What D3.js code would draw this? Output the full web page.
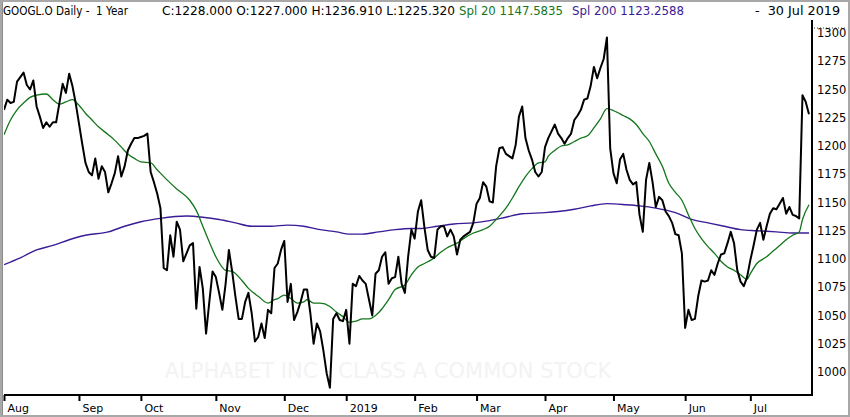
<!DOCTYPE html>
<html>
<head>
<meta charset="utf-8">
<script src="https://cdn.jsdelivr.net/npm/d3@7"></script>
<style>
  body{margin:0;background:#fff;}
  svg text{font-family:"DejaVu Sans",sans-serif;}
</style>
</head>
<body>
<div id="chart"></div>
<script>
// daily closes, one small array per month (trading days)
const closeAug = [1232,1241,1238,1239,1257,1261,1265,1254,1250,1258,1235,1226,1216,1221,1217,1221,1221,1238,1255,1247,1264,1253,1238];
const closeSep = [1220,1202,1185,1177,1174,1189,1171,1182,1177,1159,1167,1176,1191,1173,1182,1196,1202,1207,1207];
const closeOct = [1208,1209,1211,1177,1168,1158,1145,1092,1090,1121,1102,1133,1126,1098,1105,1112,1114,1056,1093,1074,1034,1062,1089];
const closeNov = [1084,1070,1055,1078,1108,1089,1067,1047,1047,1062,1070,1052,1027,1031,1043,1030,1055,1052,1092,1096,1108];
const closeDec = [1116,1062,1078,1046,1053,1062,1073,1073,1052,1025,1043,1036,1019,999,986,1047,1052,1046,1045];
const closeJan = [1055,1025,1078,1076,1085,1081,1078,1064,1050,1087,1090,1102,1106,1078,1083,1084,1102,1078,1070,1102,1126];
const closeFeb = [1118,1142,1152,1128,1108,1102,1101,1126,1129,1129,1120,1126,1120,1104,1117,1120,1122,1124,1132];
const closeMar = [1149,1154,1168,1164,1151,1150,1182,1198,1199,1193,1191,1189,1201,1226,1235,1207,1196,1188,1177,1173,1177];
const closeApr = [1199,1207,1213,1219,1211,1207,1202,1207,1211,1223,1227,1232,1241,1242,1253,1270,1260,1269,1277,1296,1198];
const closeMay = [1176,1167,1188,1193,1179,1170,1166,1168,1139,1124,1170,1185,1168,1146,1155,1152,1142,1138,1132,1122,1121,1105];
const closeJun = [1039,1055,1046,1047,1067,1081,1080,1081,1090,1086,1096,1104,1105,1114,1124,1114,1090,1080,1076,1084];
const closeJul = [1099,1112,1126,1132,1117,1129,1140,1145,1144,1149,1154,1140,1146,1139,1138,1136,1245,1239,1228];

const monthCloses = [closeAug,closeSep,closeOct,closeNov,closeDec,closeJan,closeFeb,closeMar,closeApr,closeMay,closeJun,closeJul];
const monthLabels = ["Aug","Sep","Oct","Nov","Dec","2019","Feb","Mar","Apr","May","Jun","Jul"];

// Spl 20 read at trading-day positions
const spl20Day = [0,2,4,6,8,10,13,15,17,19,21,23,25,27,29,32,34,36,38,40,42,45,47,50,53,57,59,61,63,65,68,70,73,75,78,81,83,84,86,88,90,92,93,95,97,100,102,104,106,108,110,112,114,116,118,120,123,125,127,129,132,134,136,139,141,144,147,149,151,154,156,158,160,162,164,166,167,169,171,173,175,177,179,181,183,185,188,190,192,194,196,198,200,202,204,206,208,210,212,214,216,218,220,222,224,226,228,229,231,234,236,238,240,242,244,245,247];
const spl20Val = [1210,1223,1232,1238,1243,1245,1246,1241,1237,1239,1241,1236,1229,1223,1217,1210,1205,1199,1193,1189,1186,1185,1179,1170,1162,1152,1143,1129,1115,1102,1090,1089,1081,1074,1067,1061,1064,1065,1068,1065,1061,1062,1064,1061,1061,1058,1053,1049,1044,1045,1047,1047,1050,1056,1064,1073,1077,1086,1093,1096,1101,1106,1110,1114,1118,1123,1126,1129,1135,1145,1154,1164,1173,1180,1185,1186,1191,1196,1200,1201,1204,1207,1209,1216,1224,1233,1230,1227,1224,1219,1211,1204,1193,1182,1167,1159,1152,1139,1127,1118,1111,1105,1098,1093,1090,1086,1082,1087,1096,1102,1107,1112,1117,1121,1124,1135,1148];

// Spl 200 read at trading-day positions
const spl200Day = [0,5,10,15,20,25,32,37,42,48,56,61,66,71,76,82,87,92,97,102,106,110,115,120,125,128,133,138,144,149,154,159,166,170,175,180,185,191,195,200,206,211,216,221,226,231,237,242,247];
const spl200Val = [1095,1101,1108,1112,1117,1121,1124,1129,1133,1136,1138,1137,1135,1132,1129,1129,1130,1129,1126,1124,1122,1122,1124,1126,1127,1127,1129,1131,1132,1134,1137,1140,1141,1142,1144,1147,1149,1148,1147,1145,1141,1135,1132,1129,1126,1125,1124,1123,1123];

const yTicks = [1000,1025,1050,1075,1100,1125,1150,1175,1200,1225,1250,1275,1300];

const W = 850, H = 417;
const plotLeft = 4, plotRight = 812, plotTop = 20, plotBottom = 395;

const closes = monthCloses.flat();
const monthStart = [];
monthCloses.reduce((acc, m) => { monthStart.push(acc); return acc + m.length; }, 0);

const x = d3.scaleLinear().domain([0, closes.length - 1]).range([4, 809]);
const y = d3.scaleLinear().domain([1000, 1300]).range([372, 33]);

const svg = d3.select('#chart').append('svg')
  .attr('width', W).attr('height', H);

svg.append('rect').attr('width', W).attr('height', H).attr('fill', '#fff');

svg.append('clipPath').attr('id', 'plot')
  .append('rect').attr('x', plotLeft).attr('y', plotTop)
  .attr('width', plotRight - plotLeft).attr('height', plotBottom - plotTop);

// watermark
svg.append('text')
  .attr('x', 388).attr('y', 378)
  .attr('text-anchor', 'middle')
  .style('font-size', '21px')
  .style('fill', '#f3f3f3')
  .text('ALPHABET INC - CLASS A COMMON STOCK');

const g = svg.append('g').attr('clip-path', 'url(#plot)');

const line200 = d3.line().x((d, i) => x(spl200Day[i])).y(d => y(d)).curve(d3.curveMonotoneX);
g.append('path').datum(spl200Val)
  .attr('d', line200).attr('fill', 'none')
  .attr('stroke', '#3b1c96').attr('stroke-width', 1.4);

const line20 = d3.line().x((d, i) => x(spl20Day[i])).y(d => y(d)).curve(d3.curveMonotoneX);
g.append('path').datum(spl20Val)
  .attr('d', line20).attr('fill', 'none')
  .attr('stroke', '#13761a').attr('stroke-width', 1.3);

const priceLine = d3.line().x((d, i) => x(i)).y(d => y(d));
g.append('path').datum(closes)
  .attr('d', priceLine).attr('fill', 'none')
  .attr('stroke', '#000').attr('stroke-width', 2)
  .attr('stroke-linejoin', 'round');

// x axis
const xAxis = d3.axisBottom(x)
  .tickValues(monthStart)
  .tickFormat((d, i) => monthLabels[i])
  .tickSize(6).tickSizeOuter(0);

const gx = svg.append('g').attr('transform', 'translate(0,' + plotBottom + ')').call(xAxis);
gx.select('.domain').remove();
gx.selectAll('.tick line').attr('stroke', '#000').attr('stroke-width', 2);
gx.selectAll('.tick text')
  .attr('text-anchor', 'start').attr('x', 3).attr('y', 9)
  .style('font-size', '11px').style('fill', '#000');
svg.append('line').attr('x1', plotLeft).attr('x2', plotRight + 1)
  .attr('y1', plotBottom).attr('y2', plotBottom)
  .attr('stroke', '#000').attr('stroke-width', 2);

// y axis on the right
const yAxis = d3.axisRight(y).tickValues(yTicks).tickFormat(d3.format('d')).tickSize(0).tickPadding(5);
const gy = svg.append('g').attr('transform', 'translate(' + plotRight + ',0)').call(yAxis);
gy.select('.domain').remove();
gy.selectAll('.tick text').style('font-size', '11.5px').style('fill', '#000');
svg.append('line').attr('x1', plotRight).attr('x2', plotRight)
  .attr('y1', plotTop).attr('y2', plotBottom + 1)
  .attr('stroke', '#000').attr('stroke-width', 2);
svg.append('line').attr('x1', plotRight + 2).attr('x2', 846).attr('y1', 28).attr('y2', 28)
  .attr('stroke', '#444').attr('stroke-width', 1).attr('stroke-dasharray', '1,2');

// header
const header = [
  {t: 'GOOGL.O Daily -  1 Year', x: 3, w: 125, c: '#000'},
  {t: 'C:1228.000 O:1227.000 H:1236.910 L:1225.320', x: 162, w: 293, c: '#000'},
  {t: 'Spl 20 1147.5835', x: 459, w: 104, c: '#13761a'},
  {t: 'Spl 200 1123.2588', x: 572, w: 112, c: '#3b1c96'},
  {t: '-  30 Jul 2019', x: 755, w: 85, c: '#000'}
];
svg.selectAll('.hdr').data(header).enter().append('text')
  .attr('class', 'hdr')
  .attr('x', d => d.x).attr('y', 15)
  .attr('xml:space', 'preserve')
  .attr('textLength', d => d.w).attr('lengthAdjust', 'spacingAndGlyphs')
  .style('font-size', '11.5px').style('fill', d => d.c)
  .text(d => d.t);

// outer frame
svg.append('rect').attr('x', 1).attr('y', 1).attr('width', W - 2).attr('height', H - 2)
  .attr('fill', 'none').attr('stroke', '#a8a8a8').attr('stroke-width', 2);
svg.append('line').attr('x1', 2.5).attr('x2', 2.5).attr('y1', 2).attr('y2', H - 2)
  .attr('stroke', '#8c8c8c').attr('stroke-width', 1);
</script>
</body>
</html>
